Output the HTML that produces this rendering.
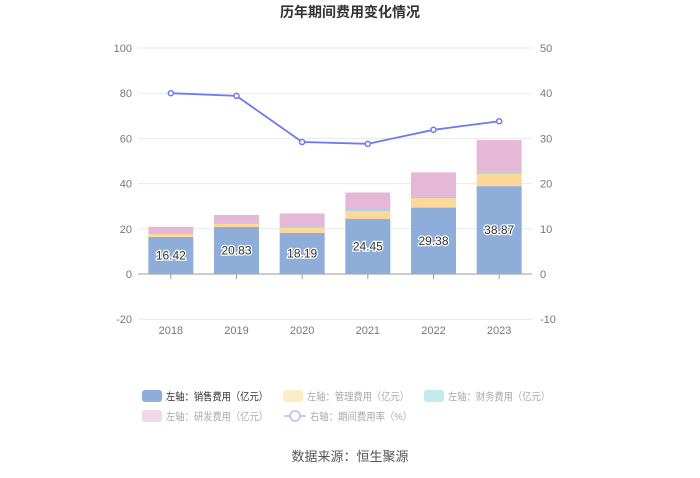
<!DOCTYPE html>
<html><head><meta charset="utf-8"><style>
body{margin:0;background:#fff;font-family:"Liberation Sans","Noto Sans CJK SC",sans-serif;}
svg text{font-family:"Liberation Sans","Noto Sans CJK SC",sans-serif;}
</style></head><body>
<svg id="c" width="700" height="473">
<text x="350" y="17" text-anchor="middle" font-size="14" font-weight="bold" fill="#333">历年期间费用变化情况</text>
<g id="grid"></g><g id="bars"></g><g id="line"></g><g id="legend"></g>
<text x="350" y="461" text-anchor="middle" font-size="13" fill="#555">数据来源：恒生聚源</text>
</svg>
<script>
const years=["2018","2019","2020","2021","2022","2023"];
const sales=[16.42,20.83,18.19,24.45,29.38,38.87];
const mgmt=[1.3,1.3,2.4,3.4,4.2,5.5];
const fin=[0.2,0.1,0.4,0.4,0.5,0.6];
const rd=[3.0,3.9,5.8,7.8,10.9,14.3];
const rate=[40.0,39.4,29.2,28.8,31.9,33.8];
const leftTicks=[-20,0,20,40,60,80,100];
const rightTicks=[-10,0,10,20,30,40,50];
const NS="http://www.w3.org/2000/svg";
const x0=138,x1=532,cw=(x1-x0)/years.length;
const yL=v=>274-v*2.26, yR=v=>274-v*4.52, xc=i=>x0+cw*(i+0.5);
function mk(t,a,p){const e=document.createElementNS(NS,t);for(const k in a)e.setAttribute(k,a[k]);p.appendChild(e);return e;}
const g=document.getElementById('grid');
leftTicks.forEach((v,i)=>{
 const gl=mk('line',{x1:x0,x2:x1,y1:yL(v),y2:yL(v),stroke:v===0?'#999':'#e6e9f0'},g);
 
 
 const t=mk('text',{x:132,y:yL(v)+4,'text-anchor':'end','font-size':11,fill:'#777'},g);t.textContent=v;
 
 
 const r=mk('text',{x:540,y:yL(v)+4,'font-size':11,fill:'#777'},g);r.textContent=rightTicks[i];
 
 
});
years.forEach((y,i)=>{
 mk('line',{x1:xc(i),x2:xc(i),y1:274,y2:279,stroke:'#999'},g);
 const t=mk('text',{x:xc(i),y:334,'text-anchor':'middle','font-size':11,fill:'#777'},g);t.textContent=y;
 
 
});
const b=document.getElementById('bars');
const series=[[sales,'#8eadd9'],[mgmt,'#fdd899'],[fin,'#8dd8d8'],[rd,'#e6b8d8']];
years.forEach((y,i)=>{
 let base=0;
 series.forEach(([arr,col])=>{
  const v=arr[i];
  const r=mk('rect',{x:xc(i)-22.5,width:45,y:yL(base+v),height:v*2.26,fill:col},b);
  
  
  base+=v;
 });
 const t=mk('text',{x:xc(i),y:yL(sales[i]/2)+4,'text-anchor':'middle','font-size':12,fill:'#333',stroke:'#fff','stroke-width':2.5,'paint-order':'stroke'},b);
 t.textContent=sales[i].toFixed(2);
 
 
});
const l=document.getElementById('line');
const pl=mk('polyline',{points:rate.map((v,i)=>xc(i)+','+yR(v)).join(' '),fill:'none',stroke:'#7078f0','stroke-width':1.8},l);


rate.forEach((v,i)=>{
 const c=mk('circle',{cx:xc(i),cy:yR(v),r:2.5,fill:'#fff',stroke:'#7078f0','stroke-width':1.5},l);
 
 
});
const lg=document.getElementById('legend');
const items=[[142,396,'#8eadd9','左轴：销售费用（亿元）','#333'],[283,396,'#feebc8','左轴：管理费用（亿元）','#aaa'],[424,396,'#c2ecec','左轴：财务费用（亿元）','#aaa'],[142,416,'#f2d8ea','左轴：研发费用（亿元）','#aaa']];
items.forEach(([x,y,c,t,tc])=>{
 const r=mk('rect',{x:x,y:y-6,width:20,height:12,rx:3,fill:c},lg);
 
 
 const tx=mk('text',{x:x+24,y:y+4,'font-size':10.5,fill:tc,textLength:102,lengthAdjust:'spacingAndGlyphs'},lg);tx.textContent=t;
 
 
});
mk('line',{x1:284,x2:306,y1:416,y2:416,stroke:'#b8bcf6','stroke-width':1.5},lg);
mk('circle',{cx:295,cy:416,r:5,fill:'#fff',stroke:'#b8bcf6','stroke-width':1.5},lg);
const lt=mk('text',{x:310,y:420,'font-size':10.5,fill:'#aaa',textLength:102,lengthAdjust:'spacingAndGlyphs'},lg);lt.textContent='右轴：期间费用率（%）';


</script>
</body></html>
